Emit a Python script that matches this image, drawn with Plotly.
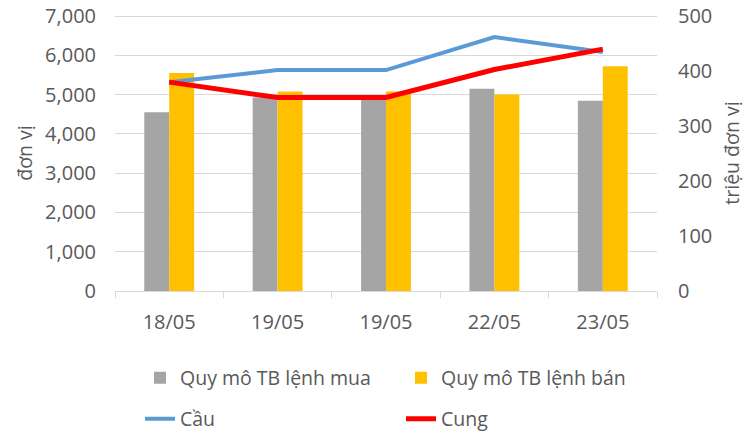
import plotly.graph_objects as go

categories = ["18/05", "19/05", "19/05", "22/05", "23/05"]
buy_size = [4555, 4930, 4930, 5150, 4845]      # Quy mô TB lệnh mua (đơn vị)
sell_size = [5555, 5080, 5080, 5005, 5725]     # Quy mô TB lệnh bán (đơn vị)
demand = [380, 402, 402, 462, 435]             # Cầu (triệu đơn vị)
supply = [380, 352, 352, 403, 440]             # Cung (triệu đơn vị)
left_ticks = [0, 1000, 2000, 3000, 4000, 5000, 6000, 7000]
right_ticks = [0, 100, 200, 300, 400, 500]

xpos = list(range(len(categories)))
FONT = "Open Sans"
TXT = "#595959"
TICK = 20
LEG = 19.5
W, H = 753, 432
PAD = 7030 / 7000  # tiny headroom so the top gridline is kept

fig = go.Figure()
fig.add_trace(go.Bar(x=xpos, y=buy_size, name="Quy mô TB lệnh mua",
                     marker=dict(color="#A5A5A5", line=dict(width=0)), legend="legend"))
fig.add_trace(go.Bar(x=xpos, y=sell_size, name="Quy mô TB lệnh bán",
                     marker=dict(color="#FFC000", line=dict(width=0)), legend="legend"))
fig.add_trace(go.Scatter(x=xpos, y=demand, name="Cầu", mode="lines", yaxis="y2",
                         line=dict(color="#5B9BD5", width=4), legend="legend2"))
fig.add_trace(go.Scatter(x=xpos, y=supply, name="Cung", mode="lines", yaxis="y2",
                         line=dict(color="#FF0000", width=5), legend="legend2"))

fig.update_layout(
    width=W, height=H,
    margin=dict(l=115, r=96, t=15, b=141, autoexpand=False),
    paper_bgcolor="white", plot_bgcolor="white",
    font=dict(family=FONT, size=TICK, color=TXT),
    barmode="group", bargap=0.54, bargroupgap=0,
    xaxis=dict(range=[-0.5, 4.5], tickvals=xpos, ticktext=categories, ticks="",
               ticklabelstandoff=13, automargin=False,
               showline=True, linecolor="#D9D9D9", linewidth=1, showgrid=False, zeroline=False,
               minor=dict(tick0=-0.5, dtick=1, ticks="outside", ticklen=6, tickcolor="#D9D9D9",
                          showgrid=False),
               tickfont=dict(size=TICK, color=TXT)),
    yaxis=dict(range=[0, 7000 * PAD], tickmode="array", tickvals=left_ticks, tickformat=",",
               showgrid=True, gridcolor="#D9D9D9", gridwidth=1, zeroline=False, showline=False,
               ticklabelstandoff=18, automargin=False, ticklabeloverflow="allow",
               title=dict(text="đơn vị", standoff=7, font=dict(size=LEG, color=TXT))),
    yaxis2=dict(range=[0, 500 * PAD], tickmode="array", tickvals=right_ticks,
                overlaying="y", side="right", showgrid=False, ticklabeloverflow="allow",
                zeroline=False, showline=False, ticklabelstandoff=20, automargin=False,
                title=dict(text="triệu đơn vị", standoff=14, font=dict(size=LEG, color=TXT))),
    legend=dict(orientation="h", x=140/W, xanchor="left", y=(H-378)/H, yanchor="middle",
                xref="container", yref="container",
                entrywidth=216, entrywidthmode="pixels", font=dict(size=LEG, color=TXT),
                bgcolor="rgba(0,0,0,0)"),
    legend2=dict(orientation="h", x=140/W, xanchor="left", y=(H-419)/H, yanchor="middle",
                 xref="container", yref="container",
                 entrywidth=216, entrywidthmode="pixels", font=dict(size=LEG, color=TXT),
                 bgcolor="rgba(0,0,0,0)"),
)

fig.write_html("out.html", config={"displayModeBar": False},
               post_script="document.body.style.margin='0';")
